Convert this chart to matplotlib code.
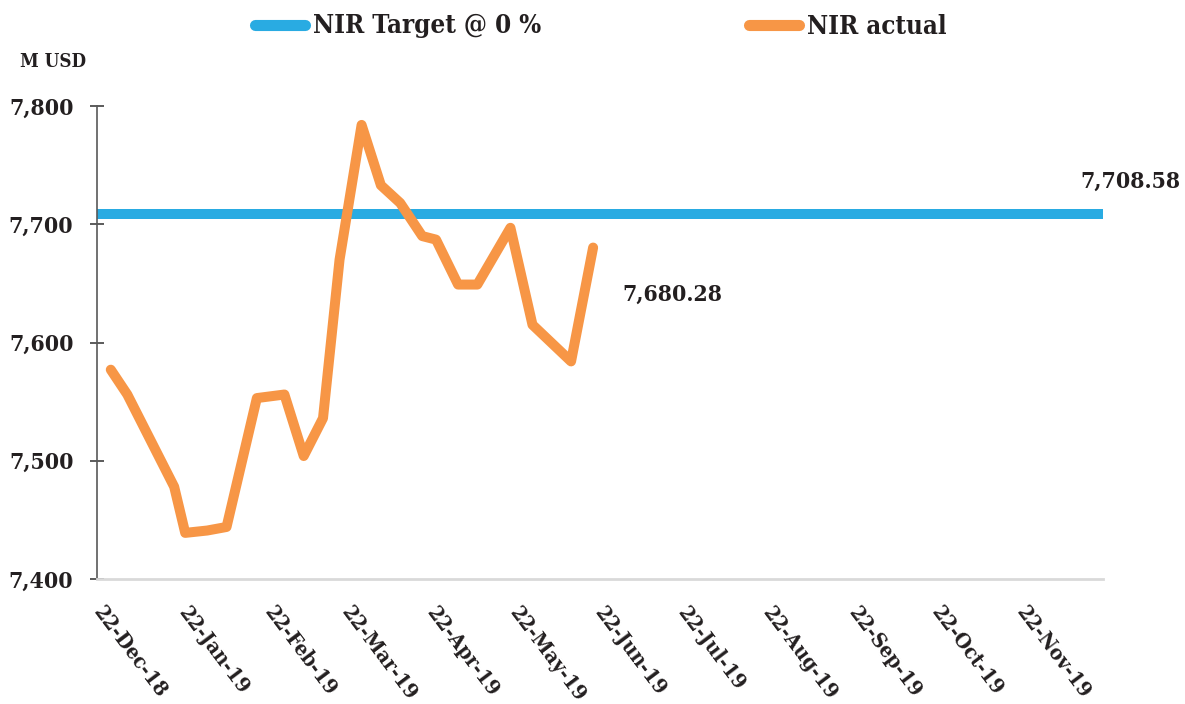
import matplotlib
matplotlib.use("Agg")
import matplotlib.pyplot as plt
from matplotlib.lines import Line2D
from matplotlib.transforms import ScaledTranslation
import pandas as pd

# ---- data ----
dates = ["2018-12-27", "2019-01-02", "2019-01-19", "2019-01-23", "2019-01-31",
         "2019-02-07", "2019-02-18", "2019-02-28", "2019-03-07", "2019-03-14",
         "2019-03-20", "2019-03-28", "2019-04-04", "2019-04-11", "2019-04-19",
         "2019-04-24", "2019-05-02", "2019-05-09", "2019-05-21", "2019-05-29",
         "2019-06-12", "2019-06-20"]
nir_actual = [7577, 7556, 7478, 7439, 7441, 7444, 7553, 7556, 7504, 7536,
              7670, 7784, 7733, 7718, 7690, 7687, 7649, 7649, 7697, 7615,
              7584, 7680.28]
target_value = 7708.58
target_span = ["2018-12-22", "2019-12-22"]
tick_dates = ["2018-12-22", "2019-01-22", "2019-02-22", "2019-03-22", "2019-04-22",
              "2019-05-22", "2019-06-22", "2019-07-22", "2019-08-22", "2019-09-22",
              "2019-10-22", "2019-11-22"]
y_ticks = [7400, 7500, 7600, 7700, 7800]
series_names = ["NIR Target @ 0 %", "NIR actual"]
y_unit = "M USD"

BLUE = "#29ABE2"
ORANGE = "#F79646"
TXT = "#231F20"
FAM = "DejaVu Serif"

x = pd.to_datetime(dates)
xs = pd.to_datetime(target_span)
xt = pd.to_datetime(tick_dates)

fig = plt.figure(figsize=(11.85, 7.04), dpi=100)
ax = fig.add_axes([97/1185, 1-579/704, (1103-97)/1185, (579-106)/704])

ax.plot(xs, [target_value, target_value], color=BLUE, lw=7.2, solid_capstyle="butt")
ax.plot(x, nir_actual, color=ORANGE, lw=7.2, solid_joinstyle="round", solid_capstyle="round")

ax.set_xlim(xs[0], xs[1])
ax.set_ylim(7400, 7800)
ax.set_yticks(y_ticks)
ax.set_yticklabels([f"{v:,}" for v in y_ticks])
ax.set_xticks(xt)
ax.set_xticklabels([d.strftime("%d-%b-%y") for d in xt])

for s in ["top", "right"]:
    ax.spines[s].set_visible(False)
ax.spines["left"].set_color("#595959")
ax.spines["left"].set_linewidth(1.2)
ax.spines["bottom"].set_color("#D9D9D9")
ax.spines["bottom"].set_linewidth(2)

ax.tick_params(axis="y", direction="inout", length=10, width=1.2, color="#404040", pad=12)
ax.tick_params(axis="x", length=0, pad=17)
for lab in ax.get_yticklabels():
    lab.set_fontfamily(FAM); lab.set_fontweight("bold"); lab.set_fontsize(16.5); lab.set_color(TXT)
    lab.set_fontstretch("condensed")
shift = ScaledTranslation(6/72, 0, fig.dpi_scale_trans)
for lab in ax.get_xticklabels():
    lab.set_fontfamily(FAM); lab.set_fontweight("bold"); lab.set_fontsize(15.2); lab.set_color(TXT)
    lab.set_fontstretch("condensed")
    lab.set_rotation(-53); lab.set_ha("left"); lab.set_va("top"); lab.set_rotation_mode("anchor")
    lab.set_transform(lab.get_transform() + shift)

tk = dict(fontfamily=FAM, fontweight="bold", fontsize=16.5, color=TXT, fontstretch="condensed")
ax.annotate(f"{nir_actual[-1]:,.2f}", xy=(x[-1], nir_actual[-1]), xytext=(21, -34),
            textcoords="offset points", ha="left", va="center", **tk)
ax.annotate(f"{target_value:,.2f}", xy=(xs[1], target_value), xytext=(-16, 23),
            textcoords="offset points", ha="left", va="center", annotation_clip=False, **tk)

fig.text(20/1185, 1-62/704, y_unit, ha="left", va="center", fontfamily=FAM,
         fontweight="bold", fontsize=13.5, color=TXT, fontstretch="condensed")

handles = [Line2D([], [], color=BLUE, lw=8, solid_capstyle="round"),
           Line2D([], [], color=ORANGE, lw=8, solid_capstyle="round")]
leg = fig.legend(handles, series_names, loc="center left", bbox_to_anchor=(255/1185, 1-26/704),
                 ncol=2, frameon=False, handlelength=1.95, handletextpad=0.3, columnspacing=8.1,
                 borderpad=0, borderaxespad=0,
                 prop=dict(family=FAM, weight="bold", size=18.5, stretch="condensed"))
for t in leg.get_texts():
    t.set_color(TXT)

fig.savefig("out.png", dpi=100)
